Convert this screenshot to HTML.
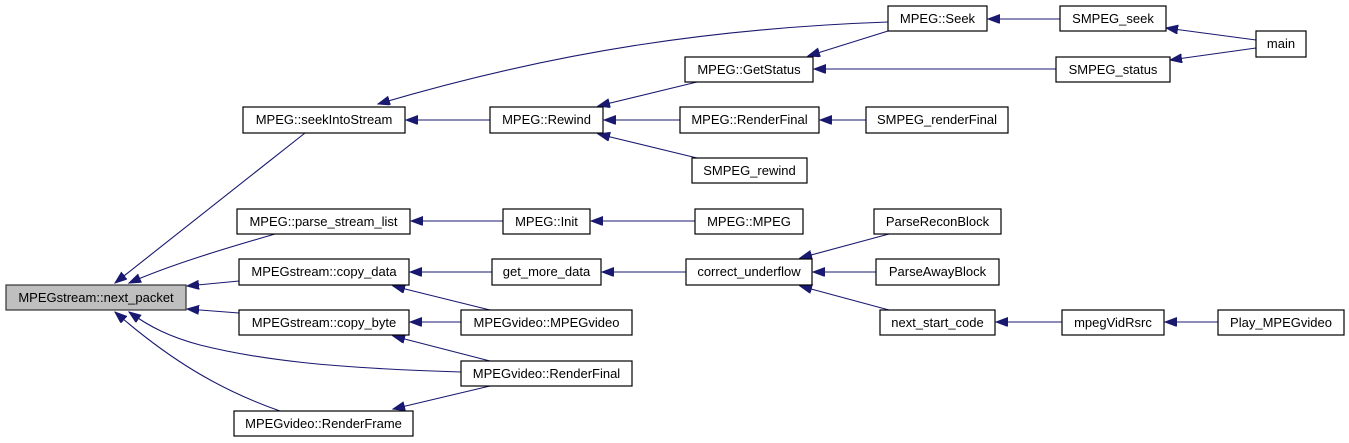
<!DOCTYPE html>
<html><head><meta charset="utf-8"><style>
html,body{margin:0;padding:0;background:#fff;}
svg{display:block;}
text{font-family:"Liberation Sans",Arial,sans-serif;font-size:13px;fill:#000;}
</style></head><body>
<svg width="1349" height="443" viewBox="0 0 1349 443" xmlns="http://www.w3.org/2000/svg">
<defs>
<marker id="a" markerUnits="userSpaceOnUse" markerWidth="13" markerHeight="10" refX="12" refY="4.5" orient="auto">
<polygon points="0,0 12,4.5 0,9" fill="#191970" stroke="#191970" stroke-width="1"/>
</marker>
</defs>
<g fill="none" stroke="#191970" stroke-width="1.1" marker-end="url(#a)">
<path d="M305,133 L115,283"/>
<path d="M275,234 C220,250 170,265 129,283"/>
<path d="M239,281 L187,286"/>
<path d="M239,313 L187,309"/>
<path d="M461,372 C330,368 260,360 200,345 C170,337 150,327 129,312"/>
<path d="M280,411 C220,390 170,360 115,312"/>
<path d="M888,22 C720,28 560,50 378,104"/>
<path d="M490,120 L406,120"/>
<path d="M697,82 L598,106"/>
<path d="M680,120 L604,120"/>
<path d="M697,158 L598,134"/>
<path d="M888,31 L808,56"/>
<path d="M1056,69 L814,69"/>
<path d="M1060,19 L988,19"/>
<path d="M1256,40 L1166,28"/>
<path d="M1256,48 L1170,60"/>
<path d="M866,120 L820,120"/>
<path d="M503,221 L411,221"/>
<path d="M695,221 L591,221"/>
<path d="M492,272 L410,272"/>
<path d="M490,310 L393,286"/>
<path d="M686,272 L602,272"/>
<path d="M889,234 L800,258"/>
<path d="M876,272 L813,272"/>
<path d="M889,310 L800,286"/>
<path d="M1062,322 L996,322"/>
<path d="M1218,322 L1165,322"/>
<path d="M461,322 L410,322"/>
<path d="M490,361 L393,336"/>
<path d="M490,386 L393,409"/>
</g>
<g stroke="#000" stroke-width="1.2" fill="#fff">
<rect x="6" y="285" width="180" height="25" fill="#bfbfbf" stroke="#333"/>
<rect x="243" y="107" width="162" height="26"/>
<rect x="237" y="209" width="173" height="25"/>
<rect x="239" y="259" width="170" height="26"/>
<rect x="239" y="310" width="170" height="25"/>
<rect x="234" y="411" width="179" height="25"/>
<rect x="685" y="57" width="128" height="25"/>
<rect x="490" y="107" width="113" height="26"/>
<rect x="680" y="107" width="139" height="26"/>
<rect x="692" y="158" width="115" height="25"/>
<rect x="503" y="209" width="87" height="25"/>
<rect x="695" y="209" width="108" height="25"/>
<rect x="492" y="259" width="109" height="26"/>
<rect x="686" y="259" width="126" height="26"/>
<rect x="461" y="310" width="171" height="25"/>
<rect x="461" y="361" width="171" height="25"/>
<rect x="888" y="6" width="99" height="25"/>
<rect x="874" y="209" width="127" height="25"/>
<rect x="876" y="259" width="123" height="26"/>
<rect x="880" y="310" width="115" height="25"/>
<rect x="1060" y="6" width="106" height="25"/>
<rect x="1256" y="31" width="50" height="26"/>
<rect x="1056" y="57" width="114" height="25"/>
<rect x="866" y="107" width="142" height="26"/>
<rect x="1062" y="310" width="102" height="25"/>
<rect x="1218" y="310" width="126" height="25"/>
</g>
<g text-anchor="middle">
<text x="96" y="302">MPEGstream::next_packet</text>
<text x="324" y="124">MPEG::seekIntoStream</text>
<text x="323.5" y="226">MPEG::parse_stream_list</text>
<text x="324" y="276">MPEGstream::copy_data</text>
<text x="324" y="327">MPEGstream::copy_byte</text>
<text x="323.5" y="428">MPEGvideo::RenderFrame</text>
<text x="749" y="74">MPEG::GetStatus</text>
<text x="546.5" y="124">MPEG::Rewind</text>
<text x="749.5" y="124">MPEG::RenderFinal</text>
<text x="749.5" y="175">SMPEG_rewind</text>
<text x="546.5" y="226">MPEG::Init</text>
<text x="749" y="226">MPEG::MPEG</text>
<text x="546.5" y="276">get_more_data</text>
<text x="749" y="276">correct_underflow</text>
<text x="546.5" y="327">MPEGvideo::MPEGvideo</text>
<text x="546.5" y="378">MPEGvideo::RenderFinal</text>
<text x="937.5" y="23">MPEG::Seek</text>
<text x="937.5" y="226">ParseReconBlock</text>
<text x="937.5" y="276">ParseAwayBlock</text>
<text x="937.5" y="327">next_start_code</text>
<text x="1113" y="23">SMPEG_seek</text>
<text x="1281" y="48">main</text>
<text x="1113" y="74">SMPEG_status</text>
<text x="937" y="124">SMPEG_renderFinal</text>
<text x="1113" y="327">mpegVidRsrc</text>
<text x="1281" y="327">Play_MPEGvideo</text>
</g>
</svg>
</body></html>
